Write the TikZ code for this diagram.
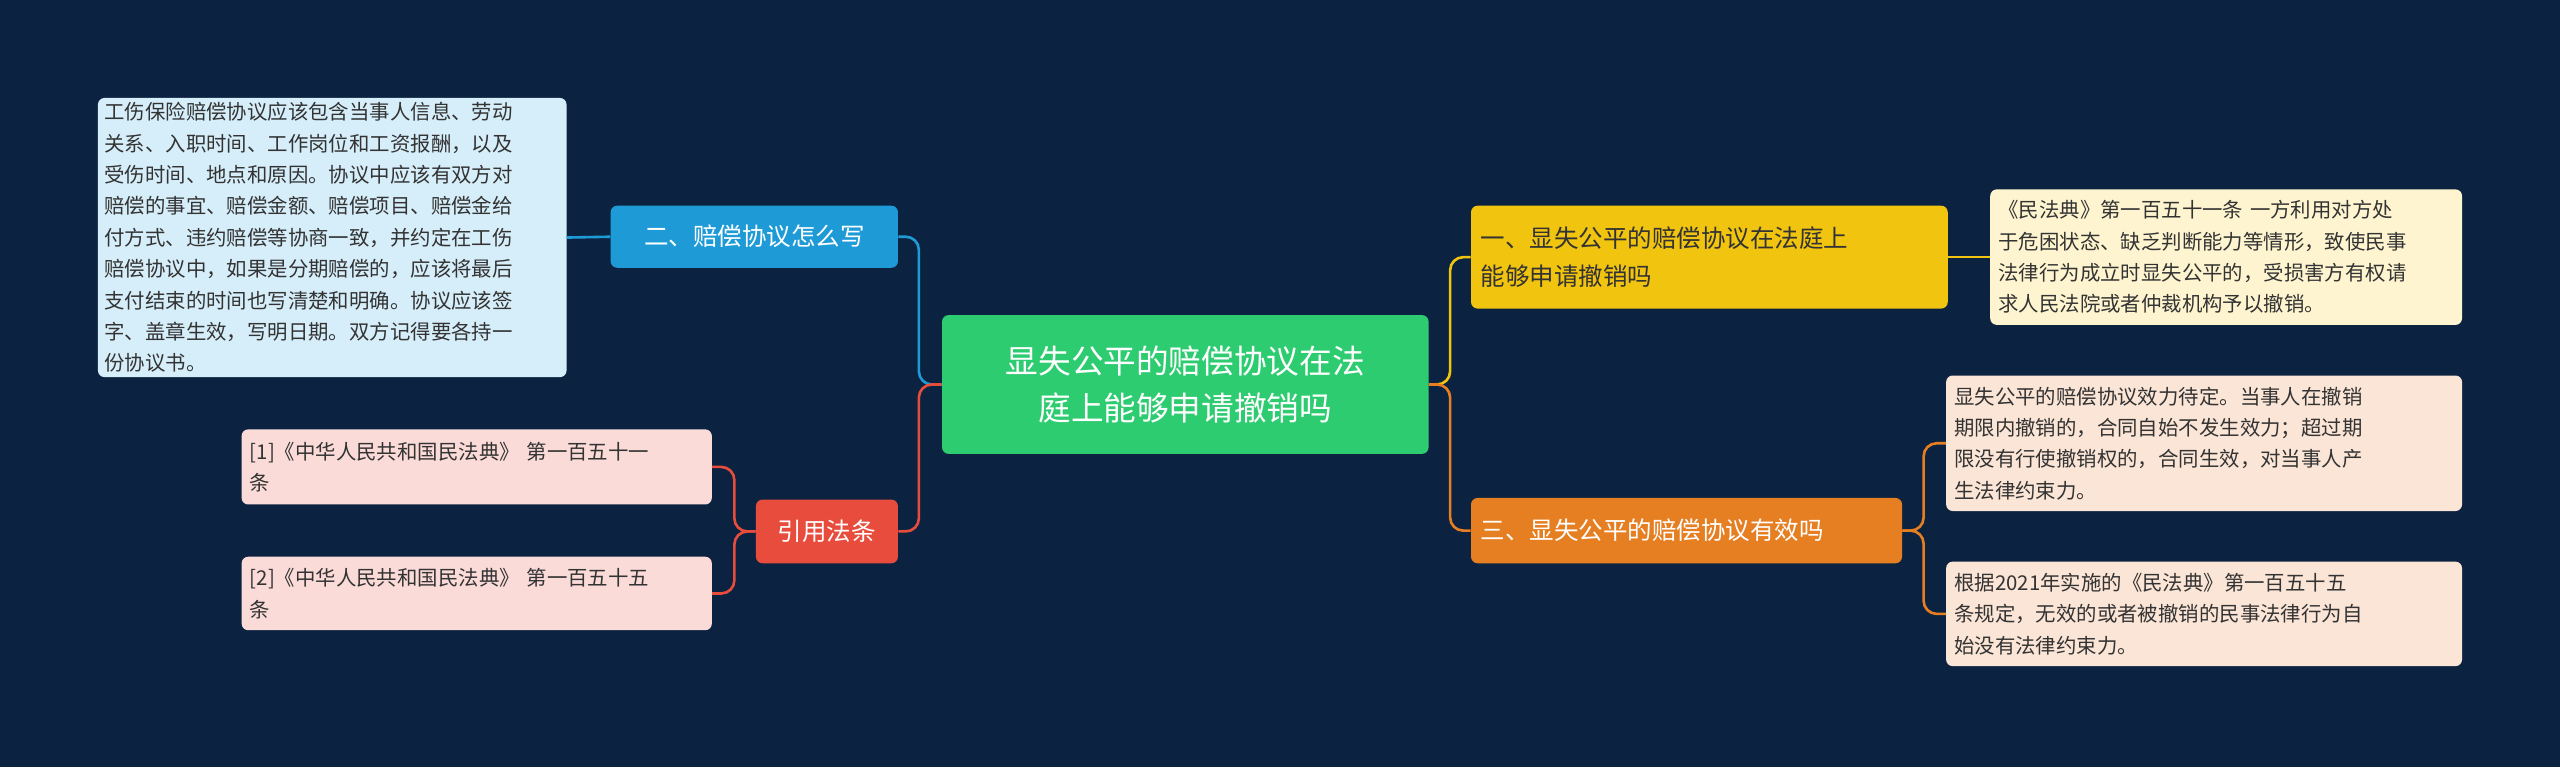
\documentclass[tikz,border=0pt]{standalone}
\usepackage{fontspec}
\setmainfont{Noto Sans CJK SC}
\definecolor{bg}{HTML}{0B2340}
\definecolor{cgreen}{HTML}{2ECC71}
\definecolor{cblue}{HTML}{1E9BD7}
\definecolor{lblue}{HTML}{D6EEFA}
\definecolor{cred}{HTML}{E74C3C}
\definecolor{lpink}{HTML}{FADBD8}
\definecolor{cyel}{HTML}{F1C40F}
\definecolor{lyel}{HTML}{FEF5D0}
\definecolor{corg}{HTML}{E67E22}
\definecolor{lorg}{HTML}{FBE5D6}
\definecolor{dtext}{HTML}{333333}
\tikzset{
 bx/.style={rounded corners=4pt,inner sep=0pt,align=left},
 small/.style={bx,font=\fontsize{12.5}{19.2}\selectfont,text=dtext},
 conn/.style={line width=1.6pt,rounded corners=8pt}
}
\begin{document}
\begin{tikzpicture}[x=1pt,y=-1pt]
\fill[bg] (0,0) rectangle (1568,470);
\useasboundingbox (0,0) rectangle (1568,470);
% center
\node[bx,fill=cgreen,minimum width=298pt,minimum height=85pt,align=center,text=white,font=\fontsize{20}{29}\selectfont] (c) at (726,235.5) {显失公平的赔偿协议在法\\庭上能够申请撤销吗};
% left branch
\node[bx,fill=cblue,minimum width=176pt,minimum height=38pt,text=white,font=\fontsize{15}{18}\selectfont] (b2) at (462,145) {二、赔偿协议怎么写};
\node[small,fill=lblue,minimum width=287pt,minimum height=171pt,text width=279pt] (t2) at (203.5,145.5) {工伤保险赔偿协议应该包含当事人信息、劳动\\关系、入职时间、工作岗位和工资报酬，以及\\受伤时间、地点和原因。协议中应该有双方对\\赔偿的事宜、赔偿金额、赔偿项目、赔偿金给\\付方式、违约赔偿等协商一致，并约定在工伤\\赔偿协议中，如果是分期赔偿的，应该将最后\\支付结束的时间也写清楚和明确。协议应该签\\字、盖章生效，写明日期。双方记得要各持一\\份协议书。};
\node[bx,fill=cred,minimum width=87pt,minimum height=39pt,text=white,font=\fontsize{15}{18}\selectfont] (b4) at (506.5,325.5) {引用法条};
\node[small,fill=lpink,minimum width=288pt,minimum height=46pt,text width=278pt] (r1) at (292,286) {[1]《中华人民共和国民法典》 第一百五十一\\条};
\node[small,fill=lpink,minimum width=288pt,minimum height=45pt,text width=278pt] (r2) at (292,363.5) {[2]《中华人民共和国民法典》 第一百五十五\\条};
% right
\node[bx,fill=cyel,minimum width=292pt,minimum height=63pt,text width=280pt,text=dtext,font=\fontsize{15}{23}\selectfont] (b1) at (1047,157.5) {一、显失公平的赔偿协议在法庭上\\能够申请撤销吗};
\node[small,fill=lyel,minimum width=289pt,minimum height=83pt,text width=279pt] (t1) at (1363.5,157.5) {《民法典》第一百五十一条 一方利用对方处\\于危困状态、缺乏判断能力等情形，致使民事\\法律行为成立时显失公平的，受损害方有权请\\求人民法院或者仲裁机构予以撤销。};
\node[bx,fill=corg,minimum width=264pt,minimum height=40pt,text width=252pt,text=white,font=\fontsize{15}{18}\selectfont] (b3) at (1033,325) {三、显失公平的赔偿协议有效吗};
\node[small,fill=lorg,minimum width=316pt,minimum height=83pt,text width=306pt] (t3) at (1350,271.5) {显失公平的赔偿协议效力待定。当事人在撤销\\期限内撤销的，合同自始不发生效力；超过期\\限没有行使撤销权的，合同生效，对当事人产\\生法律约束力。};
\node[small,fill=lorg,minimum width=316pt,minimum height=64pt,text width=306pt] (t4) at (1350,376) {根据2021年实施的《民法典》第一百五十五\\条规定，无效的或者被撤销的民事法律行为自\\始没有法律约束力。};
% connectors
\draw[conn,cblue] (c.west) -- ++(-14,0) |- (b2.east);
\draw[conn,cblue] (b2.west) -- (t2.east);
\draw[conn,cred] (c.west) -- ++(-14,0) |- (b4.east);
\draw[conn,cred] (b4.west) -- ++(-13,0) |- (r1.east);
\draw[conn,cred] (b4.west) -- ++(-13,0) |- (r2.east);
\draw[conn,cyel] (c.east) -- ++(13,0) |- (b1.west);
\draw[conn,cyel] (b1.east) -- (t1.west);
\draw[conn,corg] (c.east) -- ++(13,0) |- (b3.west);
\draw[conn,corg] (b3.east) -- ++(13,0) |- (t3.west);
\draw[conn,corg] (b3.east) -- ++(13,0) |- (t4.west);
\end{tikzpicture}
\end{document}
